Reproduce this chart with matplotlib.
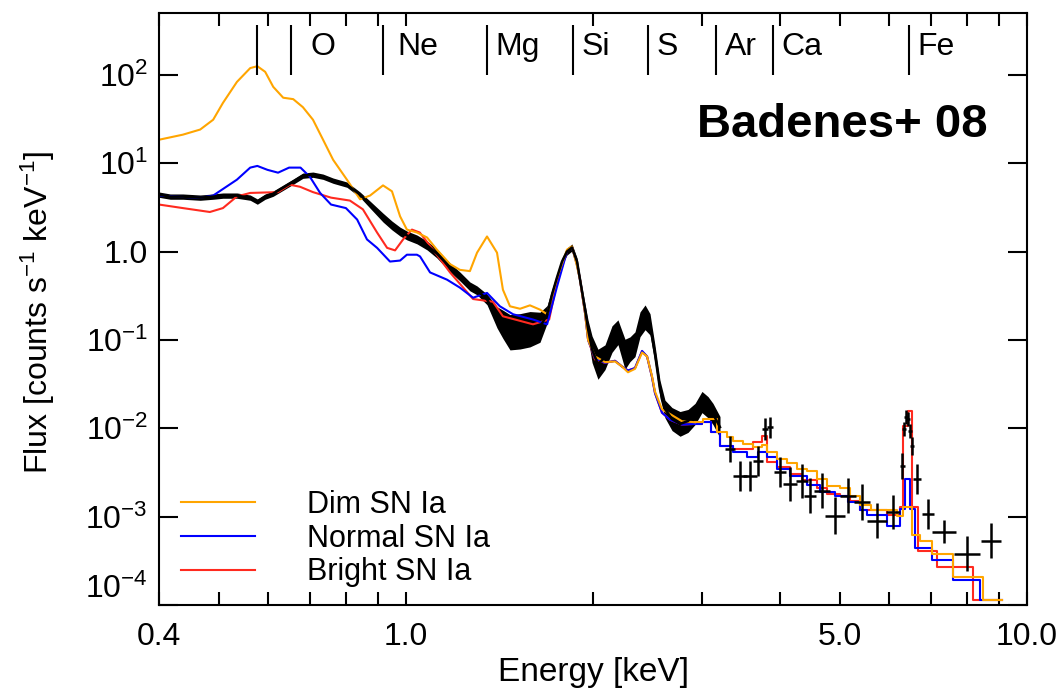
import numpy as np
import matplotlib
matplotlib.use("Agg")
import matplotlib.pyplot as plt
from matplotlib.ticker import FixedLocator, FixedFormatter

plt.rcParams['font.family'] = ['Liberation Sans', 'DejaVu Sans']
plt.rcParams['mathtext.fontset'] = 'custom'
plt.rcParams['mathtext.rm'] = 'Liberation Sans'
plt.rcParams['mathtext.default'] = 'regular'

# observed spectrum, dense part (energy keV, flux, error in dex)
obs_e = [0.400, 0.417, 0.437, 0.466, 0.489, 0.507, 0.534, 0.561, 0.576, 0.593,
         0.611, 0.634, 0.658, 0.682, 0.708, 0.735, 0.763, 0.803, 0.843, 0.875,
         0.918, 0.949, 0.978, 1.003, 1.041, 1.081, 1.121, 1.177, 1.221, 1.267,
         1.301, 1.350, 1.401, 1.432, 1.470, 1.526, 1.583, 1.643, 1.687, 1.718,
         1.750, 1.783, 1.816, 1.850, 1.885, 1.906, 1.942, 1.964, 1.993, 2.037,
         2.091, 2.146, 2.194, 2.252, 2.294, 2.337, 2.381, 2.426, 2.471, 2.517,
         2.564, 2.612, 2.681, 2.762, 2.845, 2.920, 2.996, 3.064, 3.121, 3.203]
obs_f = [4.40, 4.18, 4.18, 4.07, 4.18, 4.29, 4.29, 4.07, 3.67, 4.18,
         4.52, 5.28, 6.17, 7.21, 7.40, 7.02, 6.33, 5.71, 4.40, 3.39,
         2.42, 1.97, 1.68, 1.52, 1.37, 1.17, 0.949, 0.660, 0.522, 0.403,
         0.363, 0.287, 0.180, 0.150, 0.122, 0.125, 0.132, 0.139, 0.194, 0.327,
         0.509, 0.771, 1.00, 1.11, 0.771, 0.483, 0.221, 0.132, 0.0783, 0.0530,
         0.0636, 0.102, 0.122, 0.0688, 0.0783, 0.0892, 0.150, 0.180, 0.150, 0.0688,
         0.0277, 0.0165, 0.0127, 0.0112, 0.0121, 0.0145, 0.0198, 0.0173, 0.0145, 0.0103]
obs_err = [0.03, 0.03, 0.03, 0.03, 0.03, 0.03, 0.03, 0.03, 0.03, 0.03,
           0.03, 0.03, 0.03, 0.03, 0.03, 0.03, 0.03, 0.03, 0.03, 0.04,
           0.05, 0.05, 0.05, 0.05, 0.05, 0.05, 0.05, 0.05, 0.05, 0.05,
           0.05, 0.06, 0.12, 0.16, 0.20, 0.20, 0.20, 0.17, 0.10, 0.06,
           0.04, 0.04, 0.04, 0.04, 0.04, 0.04, 0.06, 0.10, 0.15, 0.17,
           0.14, 0.15, 0.14, 0.17, 0.14, 0.14, 0.14, 0.14, 0.12, 0.10,
           0.10, 0.10, 0.13, 0.14, 0.13, 0.12, 0.12, 0.12, 0.12, 0.12]

# observed spectrum, binned part (crosses)
cross_e = [3.324, 3.450, 3.580, 3.688, 3.785, 3.856, 4.001, 4.153, 4.342, 4.473,
           4.676, 4.907, 5.150, 5.425, 5.735, 6.084, 6.291, 6.338, 6.385, 6.432,
           6.480, 6.528, 6.651, 6.927, 7.352, 8.006, 8.751]
cross_f = [0.00582, 0.00289, 0.00289, 0.00426, 0.0098, 0.0103, 0.00320, 0.00235, 0.00254, 0.00172,
           0.00196, 0.00102, 0.00172, 0.00147, 0.000897, 0.00113, 0.00374, 0.0098, 0.0134, 0.0127,
           0.0093, 0.0063, 0.00267, 0.00108, 0.000674, 0.000380, 0.000533]
cross_xerr = [0.008, 0.011, 0.011, 0.008, 0.005, 0.005, 0.010, 0.011, 0.010, 0.010,
              0.013, 0.016, 0.013, 0.013, 0.016, 0.011, 0.004, 0.003, 0.003, 0.003,
              0.003, 0.003, 0.006, 0.010, 0.019, 0.021, 0.016]
cross_yerr = [0.15, 0.17, 0.17, 0.17, 0.12, 0.12, 0.17, 0.19, 0.19, 0.20,
              0.20, 0.21, 0.20, 0.20, 0.20, 0.19, 0.15, 0.08, 0.08, 0.08,
              0.08, 0.10, 0.17, 0.17, 0.13, 0.20, 0.20]

# models (below 3 keV smooth, above 3 keV left bin edges)
dim_e = [0.400, 0.437, 0.466, 0.489, 0.507, 0.534, 0.561, 0.576, 0.593, 0.611,
         0.634, 0.658, 0.682, 0.708, 0.735, 0.763, 0.803, 0.843, 0.875, 0.918,
         0.949, 0.978, 1.003, 1.041, 1.081, 1.121, 1.177, 1.221, 1.267, 1.301,
         1.350, 1.401, 1.432, 1.470, 1.526, 1.583, 1.643, 1.687, 1.750, 1.816,
         1.850, 1.885, 1.906, 1.942, 1.964, 2.015, 2.091, 2.170, 2.227, 2.277,
         2.337, 2.399, 2.444, 2.489, 2.517, 2.583, 2.661, 2.782, 2.920,
         3.007, 3.168, 3.287, 3.361, 3.488, 3.620, 3.743, 3.813, 3.957, 4.107,
         4.262, 4.423, 4.590, 4.763, 4.999, 5.188, 5.384, 5.600, 6.175, 6.314,
         6.528, 6.725, 7.030, 7.600, 8.495, 9.120]
dim_f = [18.4, 21.0, 24.0, 31.0, 48.0, 83.0, 119, 125, 108, 73,
         55, 53, 43, 31, 18.4, 10.9, 6.5, 3.9, 4.3, 5.6,
         4.8, 2.5, 1.77, 1.64, 1.44, 1.05, 0.72, 0.62, 0.60, 0.97,
         1.48, 0.97, 0.37, 0.24, 0.225, 0.246, 0.22, 0.195, 0.50, 1.05,
         1.14, 0.68, 0.48, 0.20, 0.10, 0.065, 0.056, 0.057, 0.050, 0.043,
         0.047, 0.072, 0.065, 0.039, 0.026, 0.0164, 0.0145, 0.012, 0.0117,
         0.0127, 0.0091, 0.0080, 0.0072, 0.0066, 0.0061, 0.0064, 0.0054, 0.0045, 0.0040,
         0.0035, 0.0033, 0.0027, 0.0022, 0.0021, 0.0017, 0.00135, 0.00120, 0.00102, 0.00130,
         0.00062, 0.00053, 0.00038, 0.00021, 0.000113, 0.000113]

normal_e = [0.400, 0.437, 0.466, 0.489, 0.534, 0.561, 0.576, 0.598, 0.622, 0.648,
            0.676, 0.700, 0.727, 0.757, 0.800, 0.834, 0.865, 0.898, 0.942, 0.978,
            1.003, 1.041, 1.053, 1.093, 1.164, 1.221, 1.282, 1.350, 1.416, 1.487,
            1.601, 1.687, 1.750, 1.816, 1.850, 1.885, 1.906, 1.942, 1.964, 2.015,
            2.091, 2.170, 2.227, 2.277, 2.337, 2.399, 2.444, 2.489, 2.517, 2.583,
            2.661, 2.782, 2.920,
            2.996, 3.100, 3.203, 3.361, 3.540, 3.688, 3.813, 3.957, 4.153, 4.423,
            4.640, 4.907, 5.150, 5.384, 5.525, 5.951, 6.244, 6.361, 6.480, 6.600,
            7.030, 7.600, 8.400, 9.120]
normal_f = [4.30, 4.15, 4.05, 4.30, 6.5, 8.9, 9.3, 8.4, 7.8, 8.9,
            8.9, 7.0, 4.6, 3.4, 3.1, 2.3, 1.37, 1.10, 0.77, 0.79,
            0.92, 0.92, 0.88, 0.58, 0.48, 0.39, 0.30, 0.34, 0.24, 0.195,
            0.17, 0.15, 0.40, 1.00, 1.12, 0.70, 0.48, 0.20, 0.10, 0.062,
            0.055, 0.058, 0.050, 0.045, 0.048, 0.075, 0.065, 0.038, 0.025, 0.015,
            0.0125, 0.011, 0.0112,
            0.0117, 0.0090, 0.0063, 0.0054, 0.0047, 0.0054, 0.0047, 0.0035, 0.0029, 0.0023,
            0.0019, 0.0017, 0.00147, 0.00118, 0.00103, 0.00079, 0.00122, 0.00267, 0.00122, 0.00044,
            0.00032, 0.00019, 0.000113, 0.000113]

bright_e = [0.400, 0.437, 0.483, 0.507, 0.534, 0.561, 0.622, 0.650, 0.675, 0.708,
            0.757, 0.812, 0.852, 0.898, 0.932, 0.960, 0.989, 1.022, 1.052, 1.105,
            1.177, 1.282, 1.380, 1.432, 1.601, 1.700, 1.750, 1.816, 1.850, 1.885,
            1.906, 1.942, 1.964, 2.015, 2.091, 2.170, 2.227, 2.277, 2.337, 2.399,
            2.444, 2.489, 2.517, 2.583, 2.661, 2.782, 2.920,
            2.996, 3.100, 3.203, 3.361, 3.620, 3.743, 3.813, 3.957, 4.153, 4.342,
            4.590, 4.763, 5.000, 5.188, 5.384, 5.951, 6.244, 6.314, 6.432, 6.528,
            6.676, 7.163, 8.186, 9.120]
bright_f = [3.4, 3.1, 2.8, 3.1, 4.2, 4.6, 4.7, 5.7, 5.4, 4.7,
            4.07, 3.77, 3.0, 1.64, 1.10, 1.03, 1.37, 1.77, 1.64, 1.05,
            0.58, 0.29, 0.27, 0.185, 0.15, 0.17, 0.45, 1.00, 1.13, 0.72,
            0.48, 0.20, 0.10, 0.060, 0.055, 0.058, 0.050, 0.045, 0.048, 0.074,
            0.065, 0.038, 0.025, 0.015, 0.0125, 0.011, 0.0112,
            0.0117, 0.0090, 0.0063, 0.0058, 0.0070, 0.0082, 0.0042, 0.0036, 0.0030, 0.0026,
            0.0021, 0.0018, 0.0017, 0.0015, 0.00120, 0.00105, 0.00130, 0.0105, 0.0156, 0.00130,
            0.00041, 0.00027, 0.000113, 0.000113]

models = [("Bright SN Ia", bright_e, bright_f, "#ff2a1f"),
          ("Normal SN Ia", normal_e, normal_f, "#0000ff"),
          ("Dim SN Ia", dim_e, dim_f, "#ffa500")]

line_energy = [0.575, 0.653, 0.918, 1.35, 1.86, 2.45, 3.16, 3.90, 6.46]
line_label = ["", "O", "Ne", "Mg", "Si", "S", "Ar", "Ca", "Fe"]

x_ticks = [0.4, 0.5, 0.6, 0.7, 0.8, 0.9, 1, 2, 3, 4, 5, 6, 7, 8, 9, 10]
x_labels = ["0.4", "", "", "", "", "", "1.0", "", "", "", "5.0", "", "", "", "", "10.0"]
y_ticks = [1e2, 1e1, 1, 1e-1, 1e-2, 1e-3, 1e-4]
y_labels = ["$10^{2}$", "$10^{1}$", "1.0", "$10^{-1}$", "$10^{-2}$", "$10^{-3}$", "$10^{-4}$"]

fig = plt.figure(figsize=(10.64, 6.93), dpi=100)
ax = fig.add_axes([159 / 1064, 1 - 605 / 693, 868 / 1064, 592 / 693])
ax.set_xscale("log")
ax.set_yscale("log")

handles = {}
for name, e, f, col in models:
    e = np.array(e)
    f = np.array(f)
    n = (e < 2.95).sum()
    h, = ax.plot(e[:n], f[:n], color=col, lw=1.5, label=name)
    ax.plot(e[n - 1:], f[n - 1:], color=col, lw=1.5, drawstyle="steps-post")
    handles[name] = h

oe = np.array(obs_e)
of = np.array(obs_f)
oerr = np.array(obs_err)
ax.fill_between(oe, of * 10 ** -oerr, of * 10 ** oerr, color="k", lw=0)
ax.plot(oe, of, color="k", lw=1.8)

ce = np.array(cross_e)
cf = np.array(cross_f)
cx = np.array(cross_xerr)
cy = np.array(cross_yerr)
ax.errorbar(ce, cf, xerr=[ce - ce * 10 ** -cx, ce * 10 ** cx - ce],
            yerr=[cf - cf * 10 ** -cy, cf * 10 ** cy - cf],
            fmt="none", ecolor="k", elinewidth=1.8, capsize=0)

# element line markers at the top
ax.vlines(line_energy, 0.8953, 0.9797, transform=ax.get_xaxis_transform(), color="k", lw=1.5)
offsets = {"O": 14, "Ne": 10}
for e, lab in zip(line_energy, line_label):
    ax.annotate(lab, xy=(e, 0.9426), xycoords=("data", "axes fraction"),
                xytext=(offsets.get(lab, 6), 0), textcoords="offset points",
                ha="left", va="center", fontsize=23)

ax.text(0.955, 0.811, "Badenes+ 08", transform=ax.transAxes, ha="right", va="center",
        fontsize=34, fontweight="bold")

ax.set_xlim(0.4, 10)
ax.set_ylim(1e-4, 500)
ax.xaxis.set_major_locator(FixedLocator(x_ticks))
ax.xaxis.set_major_formatter(FixedFormatter(x_labels))
ax.xaxis.set_minor_locator(FixedLocator([]))
ax.yaxis.set_major_locator(FixedLocator(y_ticks))
ax.yaxis.set_major_formatter(FixedFormatter(y_labels))
ax.yaxis.set_minor_locator(FixedLocator([]))
ax.tick_params(which="both", direction="in", top=True, right=True, width=1.5, labelsize=23)
ax.tick_params(axis="x", length=9.5, pad=12)
ax.tick_params(axis="y", length=14, pad=8)
for s in ax.spines.values():
    s.set_linewidth(1.5)

ax.set_xlabel("Energy [keV]", fontsize=24)
ax.xaxis.set_label_coords(0.5, -0.088)
ax.set_ylabel("Flux [counts s$^{-1}$ keV$^{-1}$]", fontsize=23)
ax.yaxis.set_label_coords(-0.118, 0.495)

ax.legend([handles["Dim SN Ia"], handles["Normal SN Ia"], handles["Bright SN Ia"]],
          ["Dim SN Ia", "Normal SN Ia", "Bright SN Ia"],
          loc="lower left", bbox_to_anchor=(0.025, 0.03), frameon=False, fontsize=22,
          handlelength=2.44, handletextpad=1.7, labelspacing=0.12, borderpad=0, borderaxespad=0)

fig.canvas.draw()
ax.get_yticklabels()[-1].set_verticalalignment("bottom")

fig.savefig("out.png", dpi=100)
